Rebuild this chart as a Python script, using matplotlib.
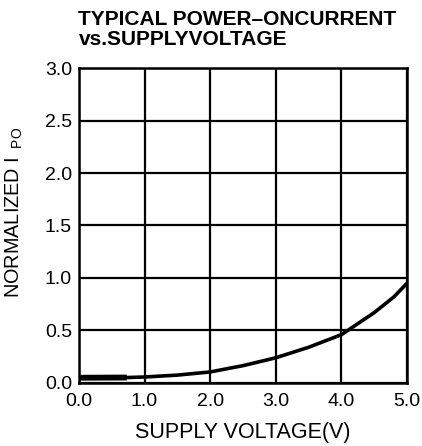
import matplotlib

matplotlib.use("Agg")
import matplotlib.pyplot as plt  # noqa: E402

plt.rcParams["font.family"] = ["Liberation Sans", "DejaVu Sans"]
plt.rcParams["mathtext.fontset"] = "custom"
plt.rcParams["mathtext.rm"] = "Liberation Sans"
plt.rcParams["mathtext.it"] = "Liberation Sans"

# curve
voltage = [0.0, 0.5, 0.75, 1.0, 1.5, 2.0, 2.5, 3.0, 3.5, 4.0, 4.5, 4.8, 5.0]
current = [0.05, 0.05, 0.052, 0.057, 0.075, 0.105, 0.165, 0.24, 0.34, 0.46, 0.67, 0.82, 0.95]
# short flat segment at the start is drawn heavier
flat_v = [0.0, 0.73]
flat_i = [0.05, 0.052]

x_ticks = [0.0, 1.0, 2.0, 3.0, 4.0, 5.0]
y_ticks = [0.0, 0.5, 1.0, 1.5, 2.0, 2.5, 3.0]

fig = plt.figure(figsize=(4.22, 4.46), dpi=100)
ax = fig.add_axes([0.187, 0.1413, 0.7775, 0.7062])

ax.plot(voltage, current, color="black", lw=2.6, solid_capstyle="butt")
ax.plot(flat_v, flat_i, color="black", lw=4.2, solid_capstyle="butt")

ax.set_xlim(0, 5)
ax.set_ylim(0, 3)
ax.set_xticks(x_ticks)
ax.set_yticks(y_ticks)
ax.set_xticklabels([f"{v:.1f}" for v in x_ticks])
ax.set_yticklabels([f"{v:.1f}" for v in y_ticks])
ax.tick_params(length=0, labelsize=14, colors="black")
ax.tick_params(axis="x", pad=7)
ax.tick_params(axis="y", pad=5)
ax.grid(color="black", lw=1.6)
for s in ax.spines.values():
    s.set_linewidth(1.8)

ax.set_xlabel("SUPPLY VOLTAGE(V)", fontsize=15.5, labelpad=9)
ax.set_ylabel("NORMALIZED I $\\,_{\\mathrm{PO}}$", fontsize=14.3)
ax.yaxis.set_label_coords(-0.165, 0.54)

fig.text(0.186, 1 - 10 / 446, "TYPICAL POWER\u2013ONCURRENT\nvs.SUPPLYVOLTAGE",
         fontsize=15, fontweight="bold", ha="left", va="top", linespacing=1.08)

fig.savefig("out.png", dpi=100)
